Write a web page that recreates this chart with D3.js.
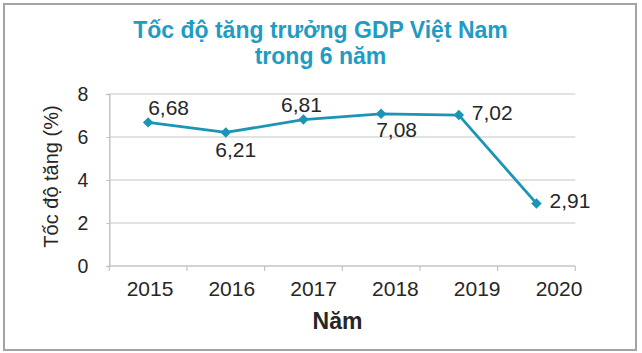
<!DOCTYPE html>
<html>
<head>
<meta charset="utf-8">
<script src="https://cdn.jsdelivr.net/npm/d3@7"></script>
<style>
  html, body { margin: 0; padding: 0; background: #fff; }
  svg { display: block; font-family: "Liberation Sans", Arial, sans-serif; }
</style>
</head>
<body>
<div id="chart"></div>
<script>
const years = ['2015', '2016', '2017', '2018', '2019', '2020']
const growth = [6.68, 6.21, 6.81, 7.08, 7.02, 2.91]
const valueLabels = ['6,68', '6,21', '6,81', '7,08', '7,02', '2,91']
const labelPlacement = ['topRight', 'below', 'top', 'belowRight', 'right', 'right']
const yTicks = [0, 2, 4, 6, 8]

const titleLines = ['Tốc độ tăng trưởng GDP Việt Nam', 'trong 6 năm']
const yTitle = 'Tốc độ tăng (%)'
const xTitle = 'Năm'

const width = 642
const height = 353
const LINE = '#1b95b5'
const TITLE = '#1f9cc4'
const TEXT = '#262626'

// offsets of value labels from their point
const PLACE = {
  topRight:   { anchor: 'start',  dx: 0,   dy: -7 },
  top:        { anchor: 'middle', dx: -2,  dy: -7.5 },
  below:      { anchor: 'middle', dx: 10,  dy: 25 },
  belowRight: { anchor: 'start',  dx: -5,  dy: 23 },
  right:      { anchor: 'start',  dx: 13,  dy: 5 },
}

const svg = d3.select('#chart').append('svg')
  .attr('width', width)
  .attr('height', height)

// frame
svg.append('rect')
  .attr('x', 4).attr('y', 4)
  .attr('width', 632).attr('height', 346)
  .attr('fill', '#fff')
  .attr('stroke', '#a3a3a3')
  .attr('stroke-width', 2)

const x = d3.scaleBand().domain(years).range([109.3, 575.3])
const xLabel = d3.scalePoint().domain(years).range([150, 559])
const y = d3.scaleLinear().domain([0, 8]).range([266, 94])

// grid
svg.append('g')
  .selectAll('line')
  .data(yTicks.filter(d => d > 0))
  .join('line')
  .attr('x1', x.range()[0]).attr('x2', x.range()[1])
  .attr('y1', d => y(d)).attr('y2', d => y(d))
  .attr('stroke', '#d9d9d9')
  .attr('stroke-width', 1.5)

// y axis
const yAxis = svg.append('g')
  .attr('transform', `translate(${x.range()[0]},0)`)
  .call(d3.axisLeft(y).tickValues(yTicks).tickSize(3).tickPadding(18))
yAxis.select('.domain').attr('stroke', '#c4c4c4').attr('stroke-width', 1.5)
yAxis.selectAll('.tick line').attr('stroke', '#c4c4c4')
yAxis.selectAll('text')
  .attr('fill', TEXT)
  .attr('font-size', 19.5)
  .attr('font-family', '"Liberation Sans", Arial, sans-serif')

// x axis (ticks at band edges)
const xAxis = svg.append('g')
svg.append('line')
  .attr('x1', x.range()[0]).attr('x2', x.range()[1])
  .attr('y1', y(0)).attr('y2', y(0))
  .attr('stroke', '#c4c4c4').attr('stroke-width', 1.5)
xAxis.selectAll('line')
  .data(years.concat(['end']))
  .join('line')
  .attr('x1', d => d === 'end' ? x.range()[1] : x(d))
  .attr('x2', d => d === 'end' ? x.range()[1] : x(d))
  .attr('y1', y(0)).attr('y2', y(0) + 5)
  .attr('stroke', '#c4c4c4').attr('stroke-width', 1.2)

xAxis.selectAll('text')
  .data(years)
  .join('text')
  .attr('x', d => xLabel(d))
  .attr('y', 296)
  .attr('text-anchor', 'middle')
  .attr('fill', TEXT)
  .attr('font-size', 21)
  .text(d => d)

// line + markers
const pts = years.map((yr, i) => ({ yr, v: growth[i], label: valueLabels[i], place: labelPlacement[i] }))
const cx = d => x(d.yr) + x.bandwidth() / 2

svg.append('path')
  .datum(pts)
  .attr('fill', 'none')
  .attr('stroke', LINE)
  .attr('stroke-width', 2.8)
  .attr('stroke-linejoin', 'round')
  .attr('d', d3.line().x(cx).y(d => y(d.v)))

svg.append('g')
  .selectAll('path')
  .data(pts)
  .join('path')
  .attr('transform', d => `translate(${cx(d)},${y(d.v)})`)
  .attr('d', d3.symbol(d3.symbolDiamond2, 70))
  .attr('fill', LINE)

svg.append('g')
  .selectAll('text')
  .data(pts)
  .join('text')
  .attr('x', d => cx(d) + PLACE[d.place].dx)
  .attr('y', d => y(d.v) + PLACE[d.place].dy)
  .attr('text-anchor', d => PLACE[d.place].anchor)
  .attr('fill', TEXT)
  .attr('font-size', 21)
  .text(d => d.label)

// titles
svg.append('text')
  .attr('x', 321).attr('y', 37.5)
  .attr('text-anchor', 'middle')
  .attr('fill', TITLE)
  .attr('font-weight', 'bold')
  .attr('font-size', 23)
  .selectAll('tspan')
  .data(titleLines)
  .join('tspan')
  .attr('x', 320.5)
  .attr('dy', (d, i) => i === 0 ? 0 : 26)
  .text(d => d)

svg.append('text')
  .attr('transform', 'translate(58,176.5) rotate(-90)')
  .attr('text-anchor', 'middle')
  .attr('fill', TEXT)
  .attr('font-size', 20)
  .text(yTitle)

svg.append('text')
  .attr('x', 337.5).attr('y', 328.5)
  .attr('text-anchor', 'middle')
  .attr('fill', TEXT)
  .attr('font-weight', 'bold')
  .attr('font-size', 23)
  .text(xTitle)
</script>
</body>
</html>
